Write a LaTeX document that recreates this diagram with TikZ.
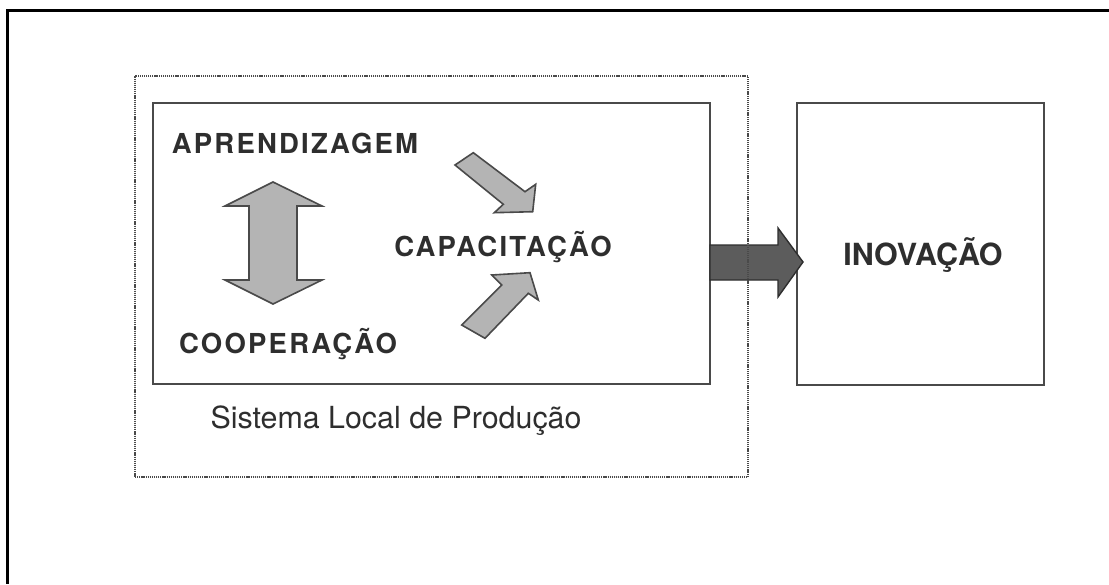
\documentclass[tikz,border=0pt]{standalone}
\usepackage{fontspec}
\setmainfont{TeX Gyre Heros}
\newfontfamily\spaced{TeX Gyre Heros}[LetterSpace=8]
\definecolor{ink}{HTML}{2E2E2E}
\definecolor{edge}{HTML}{4A4A4A}
\definecolor{lightfill}{HTML}{B4B4B4}
\definecolor{darkfill}{HTML}{5C5C5C}
\tikzset{
  framebox/.style={draw=edge, line width=1.6pt, inner sep=0pt},
  dotbox/.style={draw=edge, line width=1.4pt, dash pattern=on 1.2pt off 0.9pt, inner sep=0pt},
  bigword/.style={text=ink, inner sep=0pt, anchor=base, font=\spaced\bfseries\fontsize{27.5}{32}\selectfont},
  innovword/.style={text=ink, inner sep=0pt, anchor=base, font=\bfseries\fontsize{30.5}{36}\selectfont},
  caption/.style={text=ink, inner sep=0pt, anchor=base, font=\fontsize{30.4}{36}\selectfont},
  lightarrow/.style={fill=lightfill, draw=edge, line width=1.6pt, line join=miter},
  darkarrow/.style={fill=darkfill, draw=ink, line width=1.4pt, line join=miter},
  outerline/.style={draw=black, line width=3pt}
}
\begin{document}
\begin{tikzpicture}[x=1pt,y=-1pt]
\useasboundingbox[fill=white] (0,0) rectangle (1109,584);
% outer frame (top and left edges visible)
\coordinate (fTL) at (7,10);
\coordinate (fTR) at (1109,10);
\coordinate (fBL) at (7,584);
\draw[outerline] (fTR) -- (fTL) -- (fBL);

% boxes
\node[framebox, minimum width=557pt, minimum height=281pt] (inner) at (431.5,243.5) {};
\node[framebox, minimum width=247pt, minimum height=282pt] (innov) at (920.5,244) {};

% big dark arrow from inner box to innovation box
\draw[darkarrow] (710,245) -- (778,245) -- (778,228) -- (803,262) -- (778,297) -- (778,280) -- (710,280) -- cycle;

% dotted system boundary
\node[dotbox, minimum width=613pt, minimum height=401pt] (system) at (441.5,276.5) {};

% double vertical arrow
\draw[lightarrow] (273,182) -- (322,206) -- (297,206) -- (297,280) -- (322,280) -- (273,304)
  -- (225,280) -- (249,280) -- (249,206) -- (225,206) -- cycle;

% diagonal arrows toward CAPACITACAO
\draw[lightarrow] (473.3,152.7) -- (525,191.7) -- (535.7,184.3) -- (532.7,211.7) -- (494.3,212.7)
  -- (503.3,204.3) -- (455,165) -- cycle;
\draw[lightarrow] (461.7,325) -- (501.7,285) -- (491.7,275) -- (530,272.7) -- (538.3,300)
  -- (528.3,293.3) -- (485,338.3) -- cycle;

% texts
\node[bigword] (apr) at (295,153) {APRENDIZAGEM};
\node[bigword] (cap) at (503,256) {CAPACITAÇÃO};
\node[bigword] (coop) at (288,353) {COOPERAÇÃO};
\node[innovword] (inov) at (923,265) {INOVAÇÃO};
\node[caption] (slp) at (396,428) {Sistema Local de Produção};
\end{tikzpicture}
\end{document}
